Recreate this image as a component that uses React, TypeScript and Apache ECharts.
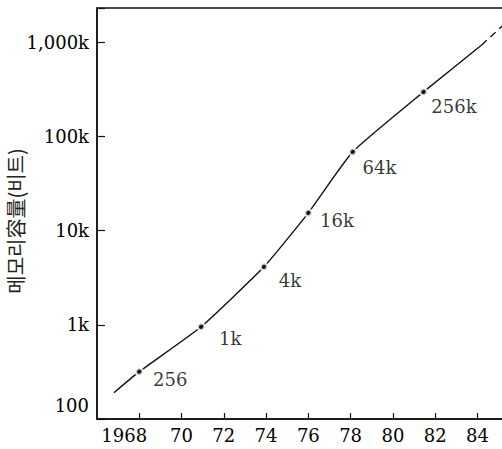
import React, { useEffect, useRef } from "react";
import * as echarts from "echarts";

// Trend curve (year, bits)
const trendYears = [1966.8, 1968, 1970.93, 1973.9, 1976, 1978.1, 1981.45, 1984.2];
const trendBits = [190, 318, 953, 4120, 15400, 68400, 296000, 930000];
// Extrapolated (dashed) part
const extYears = [1984.2, 1985.4];
const extBits = [930000, 1650000];
// Marked chips
const chipYears = [1968, 1970.93, 1973.9, 1976, 1978.1, 1981.45];
const chipBits = [318, 953, 4120, 15400, 68400, 296000];
const chipLabels = ["256", "1k", "4k", "16k", "64k", "256k"];
const chipLabelOffsets = [
  [3, 8],
  [7, 12],
  [4, 14],
  [1, 8],
  [-1, 16],
  [-3, 15],
];
const yTickLabels: Record<string, string> = {
  "2": "100",
  "3": "1k",
  "4": "10k",
  "5": "100k",
  "6": "1,000k",
};
const yAxisTitle = "메모리容量(비트)";

const SERIF = "DejaVu Serif, serif";
const FS = 18;

export default function App() {
  const ref = useRef<HTMLDivElement>(null);
  useEffect(() => {
    if (!ref.current) return;
    const chart = echarts.init(ref.current, undefined, { renderer: "svg" });
    chart.setOption({
      animation: false,
      backgroundColor: "#fff",
      textStyle: { fontFamily: SERIF },
      grid: {
        left: 97,
        top: 8,
        right: -5,
        bottom: 30,
        outerBoundsMode: "none",
        containLabel: false,
        show: true,
        borderColor: "#111",
        borderWidth: 1.5,
      },
      graphic: [
        {
          type: "text",
          x: 15,
          y: 221,
          rotation: Math.PI / 2,
          style: {
            text: yAxisTitle,
            fontFamily: "Noto Sans CJK KR",
            fontSize: 20,
            fill: "#222",
            textAlign: "center",
            textVerticalAlign: "middle",
          },
        },
      ],
      xAxis: {
        type: "value",
        min: 1966,
        max: 1985.4,
        interval: 2,
        axisLine: { lineStyle: { color: "#111", width: 1.5 } },
        axisTick: { inside: true, length: 6, lineStyle: { color: "#111", width: 1.2 } },
        splitLine: { show: false },
        axisLabel: {
          margin: 7,
          color: "#000",
          fontFamily: SERIF,
          fontSize: FS,
          showMinLabel: false,
          formatter: (v: number) => {
            if (Math.abs(v - Math.round(v)) > 1e-6) return "";
            if (v === 1966) return "";
            if (v === 1968) return "{sh|1968}";
            return String(v % 100);
          },
          rich: {
            sh: { fontFamily: SERIF, fontSize: FS, color: "#000", padding: [0, 30, 0, 0] },
          },
        },
      },
      yAxis: {
        type: "log",
        logBase: 10,
        min: 100,
        max: 2300000,
        axisLine: { lineStyle: { color: "#111", width: 1.5 } },
        axisTick: { inside: true, length: 8, lineStyle: { color: "#111", width: 1.2 } },
        minorTick: { show: false },
        splitLine: { show: false },
        axisLabel: {
          margin: 8,
          color: "#000",
          fontFamily: SERIF,
          fontSize: FS,
          formatter: (v: number) => {
            const l = Math.log10(v);
            const r = Math.round(l);
            if (Math.abs(l - r) > 1e-6) return "";
            const t = yTickLabels[String(r)];
            if (!t) return "";
            if (r === 2) return "{up|" + t + "}";
            return t;
          },
          rich: {
            up: { fontFamily: SERIF, fontSize: FS, color: "#000", padding: [0, 0, 28, 0] },
          },
        },
      },
      series: [
        {
          type: "line",
          data: trendYears.map((y, i) => [y, trendBits[i]]),
          smooth: 0.15,
          showSymbol: false,
          symbol: "none",
          lineStyle: { color: "#111", width: 1.4 },
          z: 2,
        },
        {
          type: "line",
          data: extYears.map((y, i) => [y, extBits[i]]),
          showSymbol: false,
          symbol: "none",
          lineStyle: { color: "#111", width: 1.4, type: [7, 5] },
          z: 2,
        },
        {
          type: "scatter",
          symbolSize: 7,
          itemStyle: { color: "#000", borderColor: "#fff", borderWidth: 2.5 },
          z: 3,
          label: {
            show: true,
            position: "right",
            distance: 6,
            color: "#000",
            fontFamily: SERIF,
            fontSize: FS,
            formatter: (p: any) => chipLabels[p.dataIndex],
          },
          data: chipYears.map((y, i) => ({
            value: [y, chipBits[i]],
            label: { offset: chipLabelOffsets[i] },
          })),
        },
      ],
    });
    return () => chart.dispose();
  }, []);
  return (
    <div
      ref={ref}
      style={{ position: "absolute", left: 0, top: 0, width: 502, height: 449 }}
    />
  );
}
